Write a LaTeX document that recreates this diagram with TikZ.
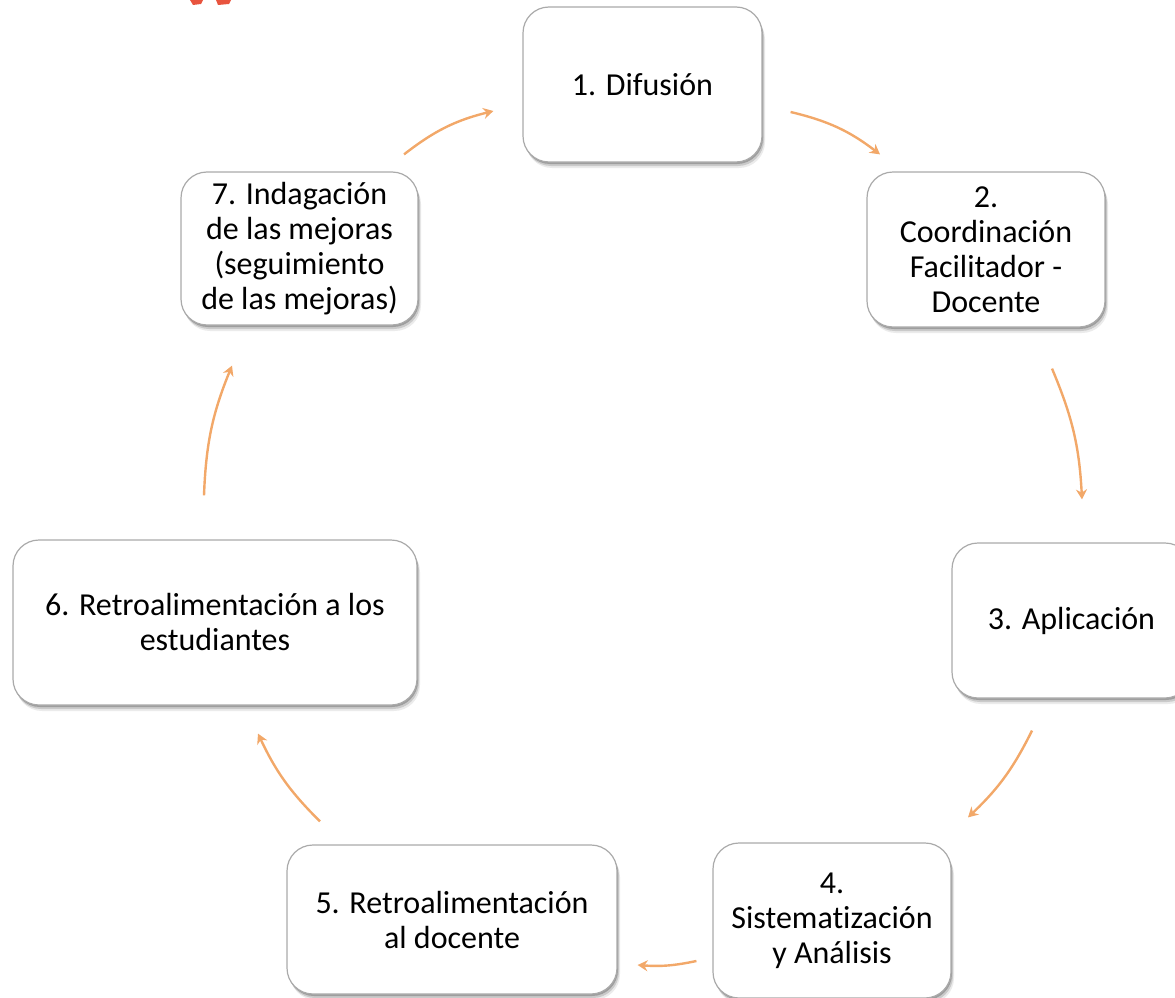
\documentclass[tikz,border=0pt]{standalone}
\usepackage{fontspec}
\setmainfont{Carlito}[Ligatures=NoCommon]
\usetikzlibrary{shadows,calc,arrows.meta}
\definecolor{arrc}{RGB}{242,168,105}
\definecolor{boxline}{RGB}{170,170,170}
\definecolor{redmark}{RGB}{232,84,62}
\begin{document}
\begin{tikzpicture}[x=1pt,y=-1pt,
  sh/.style={drop shadow={shadow xshift=1pt,shadow yshift=-2pt,opacity=.22,fill=black},
             drop shadow={shadow xshift=2pt,shadow yshift=-4pt,opacity=.14,fill=black},
             drop shadow={shadow xshift=3pt,shadow yshift=-6pt,opacity=.08,fill=black}},
  box/.style={draw=boxline, line width=1.2pt, fill=white, rounded corners=26pt,
              align=center, font=\fontsize{32}{35}\selectfont, inner sep=0pt, sh},
  arr/.style={draw=arrc, line width=2.4pt, -{Stealth[length=10pt,width=11pt]}}]
\useasboundingbox (0,0) rectangle (1175,998);
% red marks at the top edge
\fill[redmark] (190,0) -- (203,0) -- (201,4) -- (193,5) -- cycle;
\fill[redmark] (216,0) -- (231,0) -- (229,4) -- (218,5) -- cycle;
% boxes
\node[box, minimum width=239pt, minimum height=155pt] (n1) at (642.5,84.5) {1. Difusión};
\node[box, minimum width=238pt, minimum height=155pt] (n2) at (986,249.5) {2.\\Coordinación\\Facilitador -\\Docente};
\node[box, minimum width=239pt, minimum height=155pt] (n3) at (1071.5,620.5) {3. Aplicación};
\node[box, minimum width=238pt, minimum height=155pt] (n4) at (832,920.5) {4.\\Sistematización\\y Análisis};
\node[box, minimum width=330pt, minimum height=149pt] (n5) at (452,919.5) {5. Retroalimentación\\al docente};
\node[box, minimum width=404pt, minimum height=165pt] (n6) at (215,622.5) {6. Retroalimentación a los\\estudiantes};
\node[box, minimum width=237pt, minimum height=153pt] (n7) at (299.5,248.5) {7. Indagación\\de las mejoras\\(seguimiento\\de las mejoras)};
% arrows
\draw[arr] ($(n1.east)+(28,27.5)$) to[bend left=12] ($(n2.north)+(-106,-17)$);
\draw[arr] ($(n2.south)+(66,41)$) to[bend left=10] ($(n3.north)+(10.5,-43)$);
\draw[arr] ($(n3.south)+(-39.5,32)$) to[bend left=10] ($(n4.north)+(136,-25)$);
\draw[arr] ($(n4.west)+(-16,40.5)$) to[bend left=8] ($(n5.east)+(20,45.5)$);
\draw[arr] ($(n5.north)+(-132,-23)$) to[bend left=10] ($(n6.south)+(43,28)$);
\draw[arr] ($(n6.north)+(-11,-44)$) to[bend left=10] ($(n7.south)+(-67.5,40)$);
\draw[arr] ($(n7.north)+(104.5,-17)$) to[bend left=12] ($(n1.west)+(-29,26.5)$);
\end{tikzpicture}
\end{document}
